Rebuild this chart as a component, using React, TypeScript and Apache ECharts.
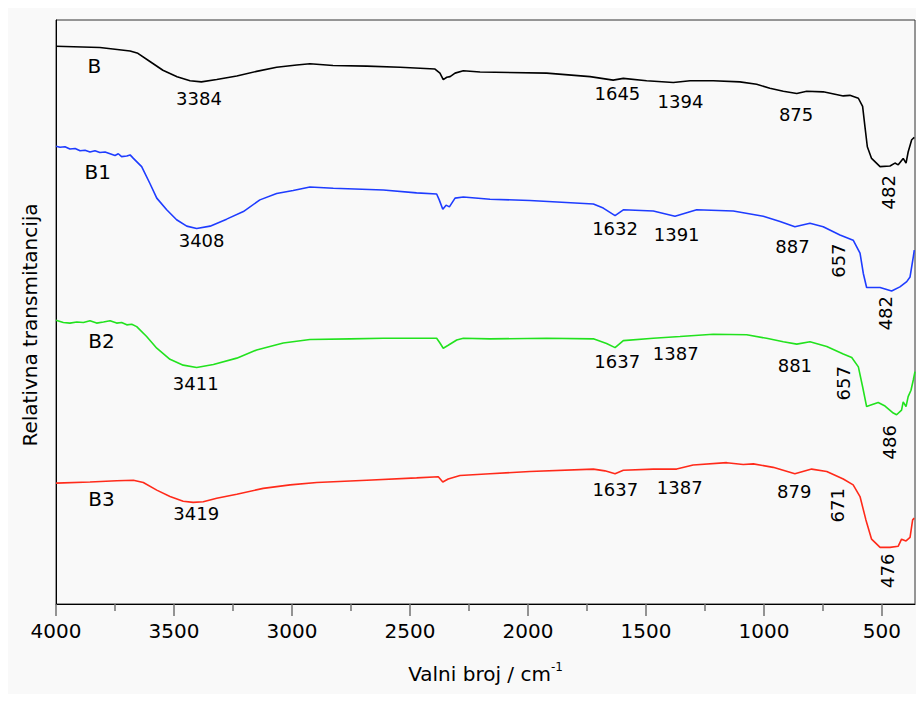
import React, { useEffect, useRef } from "react";
import * as echarts from "echarts";

// Sample B (black)
const bWave = [4000, 3814, 3686, 3653, 3602, 3547, 3487, 3432, 3384, 3319, 3234, 3150, 3065, 2980, 2924, 2826, 2683, 2542, 2394, 2373, 2359, 2344, 2330, 2309, 2274, 2203, 1921, 1737, 1639, 1596, 1497, 1384, 1313, 1215, 1102, 1031, 975, 918, 861, 819, 749, 664, 636, 600, 582, 572, 562, 544, 508, 466, 445, 431, 410, 398, 389, 374, 363];
const bT = [95.5, 95.3, 94.7, 94.3, 92.9, 91.4, 90.3, 89.6, 89.4, 89.8, 90.4, 91.2, 91.9, 92.3, 92.5, 92.2, 92.1, 91.9, 91.6, 90.9, 89.8, 90.2, 90.3, 90.9, 91.3, 91.1, 90.9, 90.3, 89.7, 90.0, 89.6, 89.3, 89.6, 89.6, 89.4, 89.0, 88.3, 87.8, 87.4, 87.8, 87.7, 87.0, 87.1, 86.6, 85.2, 81.7, 78.3, 76.3, 74.9, 75.0, 75.5, 75.2, 76.3, 75.5, 77.4, 79.5, 79.9];

// Sample B1 (blue)
const b1Wave = [4000, 3983, 3962, 3941, 3919, 3898, 3877, 3856, 3835, 3814, 3792, 3771, 3750, 3736, 3722, 3700, 3686, 3672, 3637, 3602, 3573, 3531, 3489, 3446, 3404, 3347, 3277, 3206, 3136, 3065, 2995, 2924, 2825, 2613, 2472, 2387, 2376, 2361, 2347, 2333, 2309, 2274, 2161, 1992, 1723, 1681, 1631, 1596, 1469, 1377, 1285, 1130, 1003, 932, 869, 805, 749, 678, 622, 593, 579, 565, 508, 459, 424, 395, 381, 367, 363];
const b1T = [78.4, 78.2, 78.3, 77.9, 78.0, 77.6, 77.7, 77.4, 77.6, 77.3, 77.4, 77.1, 76.8, 77.1, 76.6, 76.7, 76.9, 76.3, 74.9, 72.0, 69.5, 67.5, 65.8, 64.7, 64.3, 64.7, 65.9, 67.2, 69.2, 70.3, 70.8, 71.4, 71.2, 70.9, 70.4, 70.2, 69.2, 67.6, 68.3, 68.0, 69.5, 69.7, 69.3, 69.1, 68.5, 67.8, 66.5, 67.5, 67.3, 66.4, 67.5, 67.3, 66.4, 65.5, 64.6, 65.2, 64.6, 63.2, 62.3, 60.1, 56.6, 54.2, 54.2, 53.6, 54.3, 55.2, 56.0, 59.5, 60.6];

// Sample B2 (green)
const b2Wave = [4000, 3969, 3941, 3912, 3884, 3856, 3828, 3799, 3771, 3743, 3722, 3700, 3679, 3658, 3616, 3573, 3517, 3461, 3404, 3333, 3234, 3150, 3037, 2924, 2754, 2613, 2387, 2373, 2359, 2338, 2302, 2274, 2161, 1921, 1723, 1667, 1631, 1596, 1469, 1356, 1215, 1073, 989, 918, 861, 805, 734, 664, 628, 600, 582, 565, 544, 516, 487, 452, 438, 417, 410, 398, 389, 377, 367, 360];
const b2T = [48.6, 48.2, 48.1, 48.3, 48.2, 48.5, 48.1, 48.3, 48.5, 48.1, 48.2, 47.8, 47.9, 47.5, 45.8, 43.8, 41.9, 40.9, 40.5, 41.0, 42.1, 43.5, 44.7, 45.3, 45.4, 45.5, 45.5, 44.7, 43.8, 44.3, 45.2, 45.5, 45.4, 45.5, 45.4, 44.6, 43.9, 45.1, 45.5, 45.8, 46.2, 46.1, 45.5, 44.9, 44.5, 44.9, 44.1, 42.8, 42.2, 40.6, 37.2, 33.8, 34.1, 34.5, 33.9, 32.7, 32.4, 33.2, 34.6, 33.8, 35.5, 36.6, 38.4, 39.8];

// Sample B3 (red)
const b3Wave = [4000, 3856, 3743, 3672, 3630, 3573, 3517, 3461, 3419, 3376, 3319, 3234, 3122, 3008, 2895, 2683, 2472, 2380, 2361, 2338, 2288, 2161, 1992, 1723, 1674, 1631, 1596, 1469, 1370, 1300, 1158, 1088, 1045, 961, 869, 798, 734, 664, 622, 593, 568, 544, 508, 466, 431, 417, 398, 381, 370, 363];
const b3T = [20.7, 20.9, 21.1, 21.2, 20.8, 19.5, 18.4, 17.6, 17.4, 17.5, 18.1, 18.8, 19.8, 20.4, 20.8, 21.2, 21.6, 21.8, 20.9, 21.4, 22.0, 22.3, 22.7, 23.1, 22.8, 22.3, 22.9, 23.1, 23.1, 23.8, 24.2, 23.9, 24.0, 23.4, 22.3, 23.1, 22.7, 21.4, 20.4, 18.4, 14.4, 11.1, 9.7, 9.7, 9.9, 11.1, 10.8, 11.4, 14.4, 14.7];

const seriesNames = ["B", "B1", "B2", "B3"];

// x-axis tick values (cm-1)
const majorTicks = [500, 1000, 1500, 2000, 2500, 3000, 3500, 4000];
const minorTicks = [750, 1250, 1750, 2250, 2750, 3250, 3750];

// Annotations: [text, wavenumber, transmittance, vertical?]
const annB: [string, number, number, boolean][] = [
  ["B", 3837, 92.2, false],
  ["3384", 3394, 86.5, false],
  ["1645", 1621, 87.4, false],
  ["1394", 1354, 86.1, false],
  ["875", 864, 83.9, false],
  ["482", 472, 70.5, true],
];
const annB1: [string, number, number, boolean][] = [
  ["B1", 3823, 74.0, false],
  ["3408", 3383, 62.2, false],
  ["1632", 1631, 64.3, false],
  ["1391", 1370, 63.2, false],
  ["887", 879, 61.2, false],
  ["657", 685, 58.8, true],
  ["482", 485, 49.8, true],
];
const annB2: [string, number, number, boolean][] = [
  ["B2", 3807, 45.1, false],
  ["3411", 3408, 37.7, false],
  ["1637", 1622, 41.5, false],
  ["1387", 1374, 42.9, false],
  ["881", 869, 40.8, false],
  ["657", 662, 37.8, true],
  ["486", 470, 27.7, true],
];
const annB3: [string, number, number, boolean][] = [
  ["B3", 3807, 18.0, false],
  ["3419", 3406, 15.5, false],
  ["1637", 1630, 19.6, false],
  ["1387", 1357, 20.0, false],
  ["879", 872, 19.2, false],
  ["671", 689, 16.9, true],
  ["476", 477, 5.7, true],
];

const FONT = '"DejaVu Sans", Verdana, sans-serif';
const COLORS = ["#000000", "#1e3cff", "#22e21e", "#ff2a1a"];

const zip = (w: number[], t: number[]) => w.map((x, i) => [x, t[i]]);

export default function App() {
  const ref = useRef<HTMLDivElement>(null);

  useEffect(() => {
    if (!ref.current) return;
    const chart = echarts.init(ref.current, null, { renderer: "svg" });

    const curves = [
      zip(bWave, bT),
      zip(b1Wave, b1T),
      zip(b2Wave, b2T),
      zip(b3Wave, b3T),
    ];
    const anns = [...annB, ...annB1, ...annB2, ...annB3];

    const lineSeries = curves.map((d, i) => ({
      name: seriesNames[i],
      type: "line",
      data: d,
      xAxisIndex: 0,
      yAxisIndex: 0,
      showSymbol: false,
      symbol: "none",
      smooth: false,
      lineStyle: { color: COLORS[i], width: 1.6 },
      silent: true,
      z: 3,
    }));

    const labelSeries = {
      type: "scatter",
      xAxisIndex: 0,
      yAxisIndex: 0,
      symbolSize: 0,
      silent: true,
      z: 5,
      itemStyle: { opacity: 1 },
      data: anns.map(([text, w, t, vert]) => {
        const isName = text.startsWith("B");
        return {
          name: text,
          value: [w, t],
          label: {
            show: true,
            position: "inside",
            formatter: text,
            rotate: vert ? 90 : 0,
            fontFamily: FONT,
            fontSize: isName ? 20 : 18,
            color: "#000",
            opacity: 1,
            align: "center",
            verticalAlign: "middle",
          },
        };
      }),
    };

    const option: any = {
      animation: false,
      backgroundColor: "#f9f9f9",
      grid: {
        left: 48,
        top: 12,
        width: 859,
        height: 584,
        show: true,
        backgroundColor: "#f9f9f9",
        borderColor: "#333",
        borderWidth: 1,
      },
      xAxis: [
        {
          type: "value",
          inverse: true,
          min: 360,
          max: 4000,
          position: "bottom",
          axisLine: { show: true, onZero: false, lineStyle: { color: "#000", width: 1 } },
          axisTick: {
            show: true,
            customValues: majorTicks,
            length: 12,
            lineStyle: { color: "#707070", width: 1.5 },
          },
          axisLabel: {
            show: true,
            customValues: majorTicks,
            formatter: (v: number) => String(v),
            fontFamily: FONT,
            fontSize: 20,
            color: "#000",
            margin: 17,
          },
          splitLine: { show: false },
          name: "{a|Valni broj / cm}{b|-1}",
          nameLocation: "middle",
          nameGap: 57,
          nameTextStyle: {
            rich: {
              a: { fontFamily: FONT, fontSize: 20, color: "#000" },
              b: { fontFamily: FONT, fontSize: 12, color: "#000", padding: [0, 0, 14, 0] },
            },
          },
        },
        {
          type: "value",
          inverse: true,
          min: 360,
          max: 4000,
          position: "bottom",
          axisLine: { show: false, onZero: false },
          axisTick: {
            show: true,
            customValues: minorTicks,
            length: 7,
            lineStyle: { color: "#707070", width: 1.5 },
          },
          axisLabel: { show: false },
          splitLine: { show: false },
        },
      ],
      yAxis: {
        type: "value",
        min: 0,
        max: 100,
        axisLine: { show: true, onZero: false, lineStyle: { color: "#000", width: 1 } },
        axisTick: { show: false },
        axisLabel: { show: false },
        splitLine: { show: false },
      },
      graphic: [
        {
          type: "text",
          x: 22,
          y: 317,
          rotation: Math.PI / 2,
          style: {
            text: "Relativna transmitancija",
            font: `20px ${FONT}`,
            fill: "#000",
            textAlign: "center",
            textVerticalAlign: "middle",
          },
        },
      ],
      series: [...lineSeries, labelSeries],
    };

    chart.setOption(option);
    return () => chart.dispose();
  }, []);

  return <div ref={ref} style={{ width: 908, height: 686 }} />;
}
